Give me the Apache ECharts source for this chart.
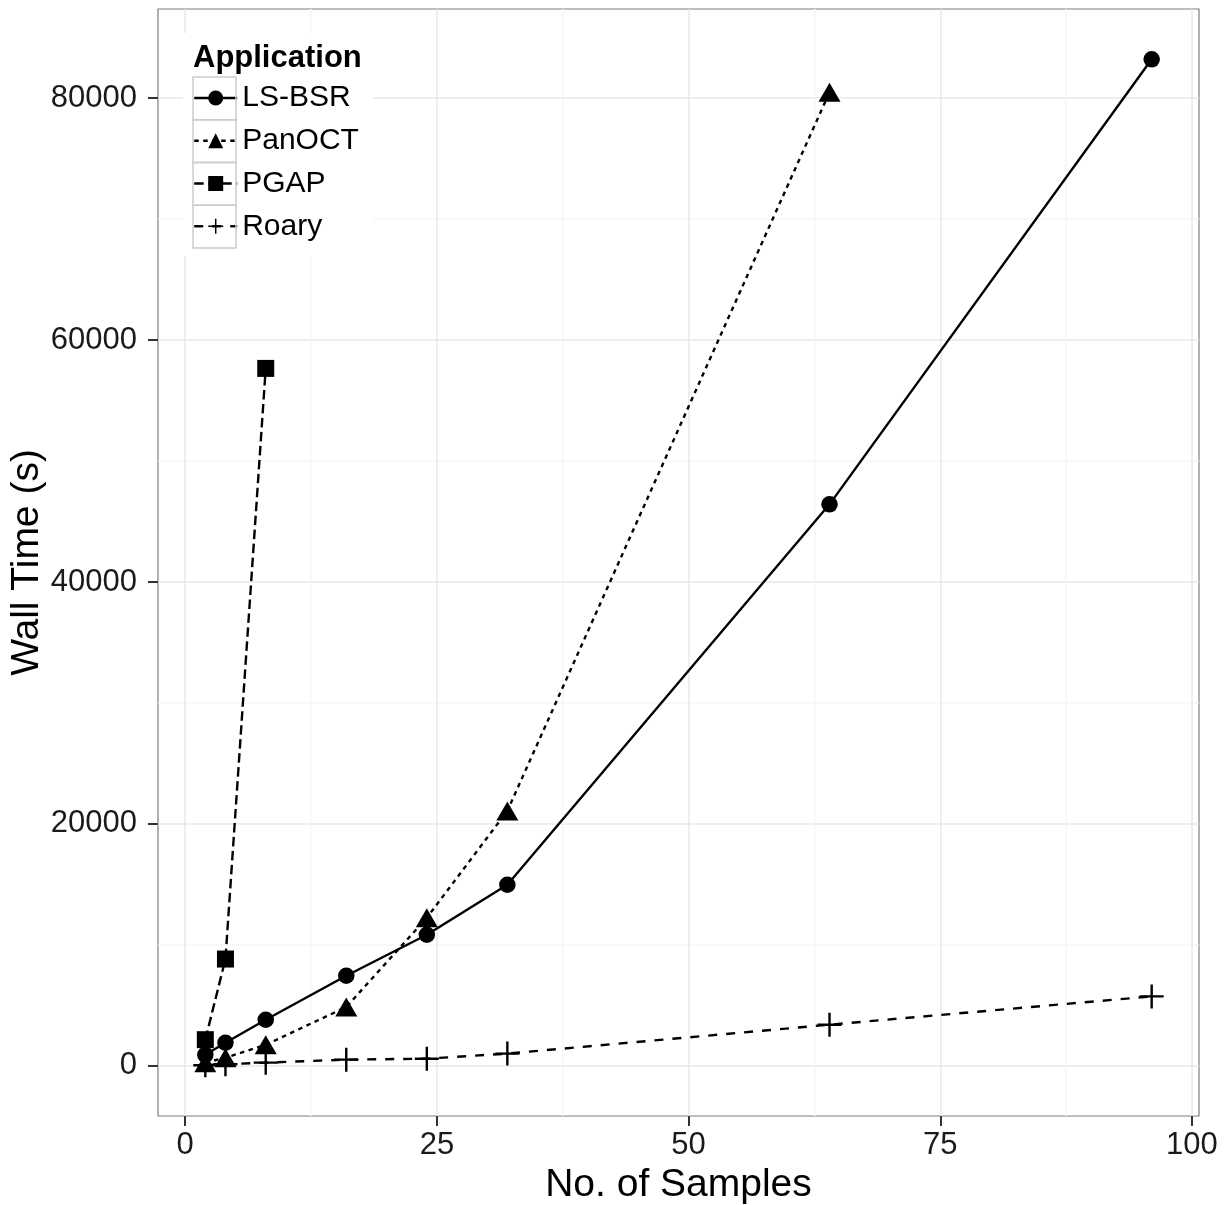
<!DOCTYPE html>
<html>
<head>
<meta charset="utf-8">
<script src="https://cdn.jsdelivr.net/npm/echarts@6/dist/echarts.min.js"></script>
<style>
  html, body { margin: 0; padding: 0; background: #fff; }
  #chart { width: 1230px; height: 1205px; }
</style>
</head>
<body>
<div id="chart"></div>
<script>
// data
const samples = [2, 4, 8, 16, 24, 32, 64, 96];
const lsbsr = [900, 1900, 3800, 7440, 10830, 14960, 46420, 83220];
const panoct = [250, 660, 1730, 4850, 12230, 21070, 80500];
const pgap = [2150, 8820, 57660];
const roary = [40, 120, 250, 500, 580, 1000, 3390, 5730];

const xTicks = [0, 25, 50, 75, 100];
const xMinor = [12.5, 37.5, 62.5, 87.5];
const yTicks = [0, 20000, 40000, 60000, 80000];
const yMinor = [10000, 30000, 50000, 70000];

const font = '"Liberation Sans", Arial, Helvetica, sans-serif';
const plusPath = 'path://M-11,-1.1H-1.1V-11H1.1V-1.1H11V1.1H1.1V11H-1.1V1.1H-11Z';

function pairs(vals) {
  return vals.map((v, i) => [samples[i], v]);
}

const chart = echarts.init(document.getElementById('chart'));

const xRange = { min: -2.7, max: 100.7 };
const yRange = { min: -4160, max: 87380 };

const option = {
  backgroundColor: '#fff',
  animation: false,
  textStyle: { fontFamily: font },
  title: {
    text: 'Application',
    left: 188,
    top: 38,
    z: 10,
    textStyle: { fontFamily: font, fontSize: 31, fontWeight: 'bold', color: '#000' }
  },
  legend: {
    orient: 'vertical',
    left: 183,
    top: 33,
    padding: [50, 14, 15, 10],
    itemWidth: 43,
    itemHeight: 18.75,
    itemGap: 12.75,
    backgroundColor: '#fff',
    lineStyle: { width: 2.4 },
    textStyle: { fontFamily: font, fontSize: 30, color: '#000' },
    data: ['LS-BSR', 'PanOCT', 'PGAP', 'Roary']
  },
  graphic: [0, 1, 2, 3].map(i => ({
    type: 'rect',
    z: 50,
    silent: true,
    shape: { x: 193, y: 77 + i * 42.75, width: 43, height: 42.75 },
    style: { fill: null, stroke: '#cccccc', lineWidth: 1.5 }
  })),
  grid: {
    left: 158, right: 31, top: 9, bottom: 89,
    containLabel: false,
    outerBoundsMode: 'none',
    show: true,
    borderColor: '#7f7f7f',
    borderWidth: 1.2,
    z: 0
  },
  xAxis: [{
    type: 'value',
    min: xRange.min,
    max: xRange.max,
    name: 'No. of Samples',
    nameLocation: 'middle',
    nameGap: 46,
    nameTextStyle: { fontFamily: font, fontSize: 39, color: '#000' },
    axisLine: { show: false, onZero: false },
    axisTick: { show: true, length: 10, customValues: xTicks, lineStyle: { color: '#333', width: 2 } },
    axisLabel: { customValues: xTicks, margin: 14, fontSize: 31, color: '#1a1a1a', fontFamily: font },
    splitLine: { show: true, lineStyle: { color: '#e8e8e8', width: 1.5 } }
  }, {
    type: 'value',
    min: xRange.min,
    max: xRange.max,
    position: 'bottom',
    axisLine: { show: false, onZero: false },
    axisTick: { show: false, customValues: xMinor },
    axisLabel: { show: false, customValues: xMinor },
    splitLine: { show: true, lineStyle: { color: '#f6f6f6', width: 1.5 } }
  }],
  yAxis: [{
    type: 'value',
    min: yRange.min,
    max: yRange.max,
    name: 'Wall Time (s)',
    nameLocation: 'middle',
    nameRotate: 90,
    nameGap: 111,
    nameMoveOverlap: false,
    nameTextStyle: { fontFamily: font, fontSize: 39, color: '#000' },
    axisLine: { show: false, onZero: false },
    axisTick: { show: true, length: 10, customValues: yTicks, lineStyle: { color: '#333', width: 2 } },
    axisLabel: {
      customValues: yTicks, margin: 21, fontSize: 31, color: '#1a1a1a', fontFamily: font,
      formatter: v => String(v)
    },
    splitLine: { show: true, lineStyle: { color: '#e8e8e8', width: 1.5 } }
  }, {
    type: 'value',
    min: yRange.min,
    max: yRange.max,
    position: 'left',
    axisLine: { show: false, onZero: false },
    axisTick: { show: false, customValues: yMinor },
    axisLabel: { show: false, customValues: yMinor },
    splitLine: { show: true, lineStyle: { color: '#f6f6f6', width: 1.5 } }
  }],
  series: [{
    name: 'LS-BSR',
    type: 'line',
    data: pairs(lsbsr),
    symbol: 'circle',
    symbolSize: 16.5,
    itemStyle: { color: '#000' },
    lineStyle: { color: '#000', width: 2.4, type: 'solid' },
    z: 5
  }, {
    name: 'PanOCT',
    type: 'line',
    data: pairs(panoct),
    symbol: 'triangle',
    symbolSize: [22, 19],
    itemStyle: { color: '#000' },
    lineStyle: { color: '#000', width: 2.4, type: [4.5, 4.5] },
    z: 5
  }, {
    name: 'PGAP',
    type: 'line',
    data: pairs(pgap),
    symbol: 'rect',
    symbolSize: 17,
    itemStyle: { color: '#000' },
    lineStyle: { color: '#000', width: 2.4, type: [9.5, 4.5] },
    z: 5
  }, {
    name: 'Roary',
    type: 'line',
    data: pairs(roary),
    symbol: plusPath,
    symbolSize: 24,
    itemStyle: { color: '#000' },
    lineStyle: { color: '#000', width: 2.4, type: [9, 9] },
    z: 5
  }]
};

chart.setOption(option);

window.addEventListener('resize', () => {
  chart.resize();
});
</script>
</body>
</html>
